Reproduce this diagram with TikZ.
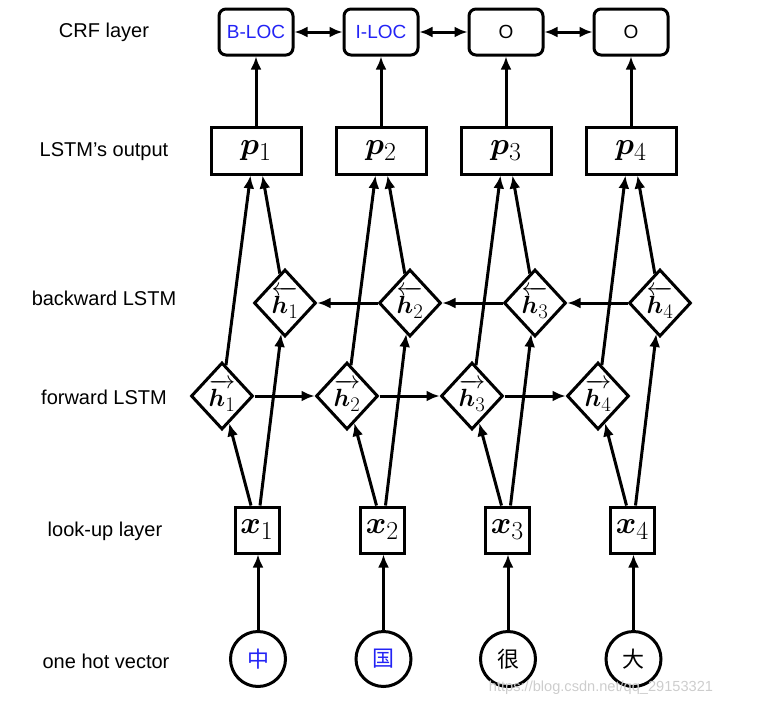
\documentclass[tikz,border=0pt]{standalone}
\usepackage{amsmath,bm}
\usepackage{fontspec}
\newfontfamily\lab{Liberation Sans}
\newfontfamily\cjk{Noto Sans CJK SC}
\usetikzlibrary{shapes.geometric,arrows.meta,calc}
\definecolor{tagblue}{RGB}{35,35,245}
\definecolor{wmgray}{RGB}{205,205,205}
\newcommand{\fwd}[1]{\raisebox{-5pt}{$\overrightarrow{\bm{h}_{#1}\mathstrut}$}}
\newcommand{\bwd}[1]{\raisebox{-5pt}{$\overleftarrow{\bm{h}_{#1}\mathstrut}$}}
\newcommand{\vecp}[1]{\scalebox{1.25}{$\bm{p}_{#1}$}}
\newcommand{\vecx}[1]{\scalebox{1.25}{$\bm{x}_{#1}$}}
\tikzset{
  lbl/.style={font=\lab\fontsize{20}{24}\selectfont, inner sep=0pt},
  crfbox/.style={draw, rounded corners=7pt, minimum width=74pt, minimum height=46pt, inner sep=0pt, font=\lab\fontsize{19}{23}\selectfont},
  outbox/.style={draw, minimum width=90pt, minimum height=47pt, inner sep=0pt, font=\Huge},
  inbox/.style={draw, minimum width=44pt, minimum height=46pt, inner sep=0pt, font=\Huge},
  lstm/.style={draw, diamond, minimum width=62pt, minimum height=67pt, inner sep=0pt, font=\Huge},
  word/.style={draw, circle, minimum size=55pt, inner sep=0pt, font=\cjk\fontsize{22}{26}\selectfont},
  conn/.style={-{Latex[length=13pt,width=11pt]}},
  dconn/.style={{Latex[length=13pt,width=11pt]}-{Latex[length=13pt,width=11pt]}}
}
\begin{document}
\begin{tikzpicture}[x=1pt,y=-1pt,line width=3pt]
\path[use as bounding box] (0,0) rectangle (761,707);
% row labels
\node[lbl] (l1) at (104,32) {CRF layer};
\node[lbl] (l2) at (104,152) {LSTM’s output};
\node[lbl] (l3) at (104,298) {backward LSTM};
\node[lbl] (l4) at (104,397) {forward LSTM};
\node[lbl] (l5) at (105,531) {look-up layer};
\node[lbl] (l6) at (106,661) {one hot vector};
% CRF layer
\node[crfbox, text=tagblue] (c1) at (256,32) {B-LOC};
\node[crfbox, text=tagblue] (c2) at (381,32) {I-LOC};
\node[crfbox] (c3) at (506,32) {O};
\node[crfbox] (c4) at (631,32) {O};
% LSTM output
\node[outbox] (p1) at (256,150.5) {\vecp{1}};
\node[outbox] (p2) at (381,150.5) {\vecp{2}};
\node[outbox] (p3) at (506,150.5) {\vecp{3}};
\node[outbox] (p4) at (631,150.5) {\vecp{4}};
% backward LSTM
\node[lstm] (b1) at (285,303) {\bwd{1}};
\node[lstm] (b2) at (410,303) {\bwd{2}};
\node[lstm] (b3) at (535,303) {\bwd{3}};
\node[lstm] (b4) at (660,303) {\bwd{4}};
% forward LSTM
\node[lstm] (f1) at (222,396) {\fwd{1}};
\node[lstm] (f2) at (347,396) {\fwd{2}};
\node[lstm] (f3) at (472,396) {\fwd{3}};
\node[lstm] (f4) at (598,396) {\fwd{4}};
% look-up layer
\node[inbox] (x1) at (257,530) {\vecx{1}};
\node[inbox] (x2) at (382.5,530) {\vecx{2}};
\node[inbox] (x3) at (507.5,530) {\vecx{3}};
\node[inbox] (x4) at (632.5,530) {\vecx{4}};
% one hot vector
\node[word, text=tagblue] (w1) at (258,659) {中};
\node[word, text=tagblue] (w2) at (383.5,659) {国};
\node[word] (w3) at (508,659) {很};
\node[word] (w4) at (633.5,659) {大};
% watermark
\node[font=\lab\fontsize{14.6}{17}\selectfont, text=wmgray, inner sep=0pt] (wm) at (601,688) {https://blog.csdn.net/qq\_29153321};
% connectors
\foreach \i in {1,2,3,4}{
  \draw[conn] (w\i.north) -- (w\i.north |- x\i.south);
  \draw[conn] ($(x\i.north)+(-6,0)$) -- (f\i);
  \draw[conn] ($(x\i.north)+(3,0)$) -- (b\i);
  \draw[conn] (f\i) -- ($(p\i.south)+(-5.5,0)$);
  \draw[conn] (b\i) -- ($(p\i.south)+(6.5,0)$);
  \draw[conn] (p\i.north) -- (c\i.south);
}
\draw[conn] (f1.east) -- (f2.west);
\draw[conn] (f2.east) -- (f3.west);
\draw[conn] (f3.east) -- (f4.west);
\draw[conn] (b4.west) -- (b3.east);
\draw[conn] (b3.west) -- (b2.east);
\draw[conn] (b2.west) -- (b1.east);
\draw[dconn] (c1.east) -- (c2.west);
\draw[dconn] (c2.east) -- (c3.west);
\draw[dconn] (c3.east) -- (c4.west);
\end{tikzpicture}
\end{document}
